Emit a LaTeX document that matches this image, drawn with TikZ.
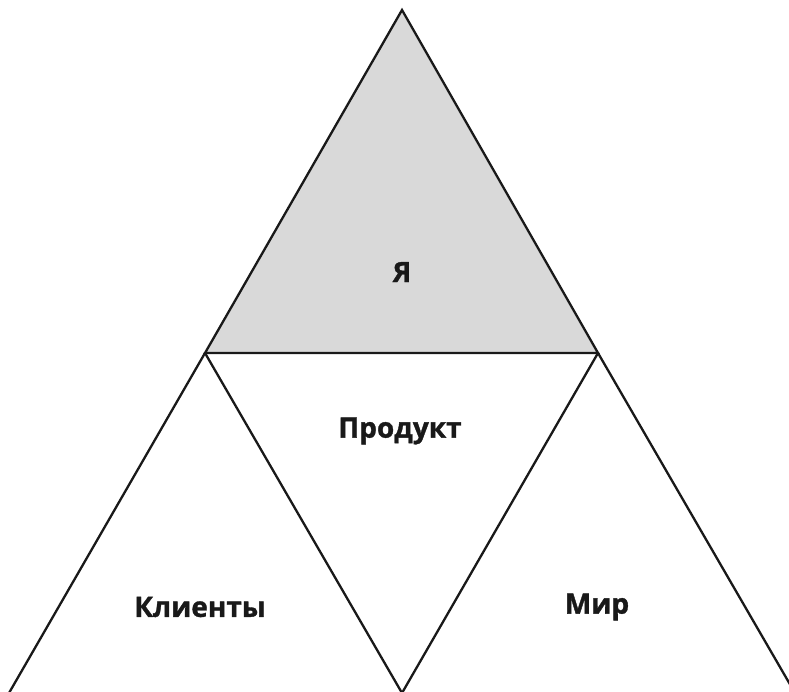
\documentclass[tikz,border=0pt]{standalone}
\usepackage{fontspec}
\setmainfont{Open Sans}[BoldFeatures={FakeBold=1.2}]
\begin{document}
\begin{tikzpicture}[x=1pt,y=-1pt,
  edge/.style={line width=2.3pt,draw=black!90,line join=miter},
  lbl/.style={font=\fontsize{28}{32}\selectfont\bfseries,text=black!90,inner sep=0pt}]
\useasboundingbox (0,0) rectangle (789,691);
\clip (0,0) rectangle (789,691);
\coordinate (A) at (402,10);
\coordinate (L) at (205,353);
\coordinate (R) at (598,353);
\coordinate (BL) at (9,693);
\coordinate (BM) at (402,693);
\coordinate (BR) at (795,693);
\fill[gray!30] (A) -- (L) -- (R) -- cycle;
\draw[edge] (A) -- (L) -- (R) -- cycle;
\draw[edge] (L) -- (BL);
\draw[edge] (L) -- (BM) -- (R);
\draw[edge] (R) -- (BR);
\node[lbl] (ya) at (402,272) {Я};
\node[lbl] (prod) at (400,431) {Продукт};
\node[lbl] (kl) at (200,607) {Клиенты};
\node[lbl] (mir) at (597,607) {Мир};
\end{tikzpicture}
\end{document}
